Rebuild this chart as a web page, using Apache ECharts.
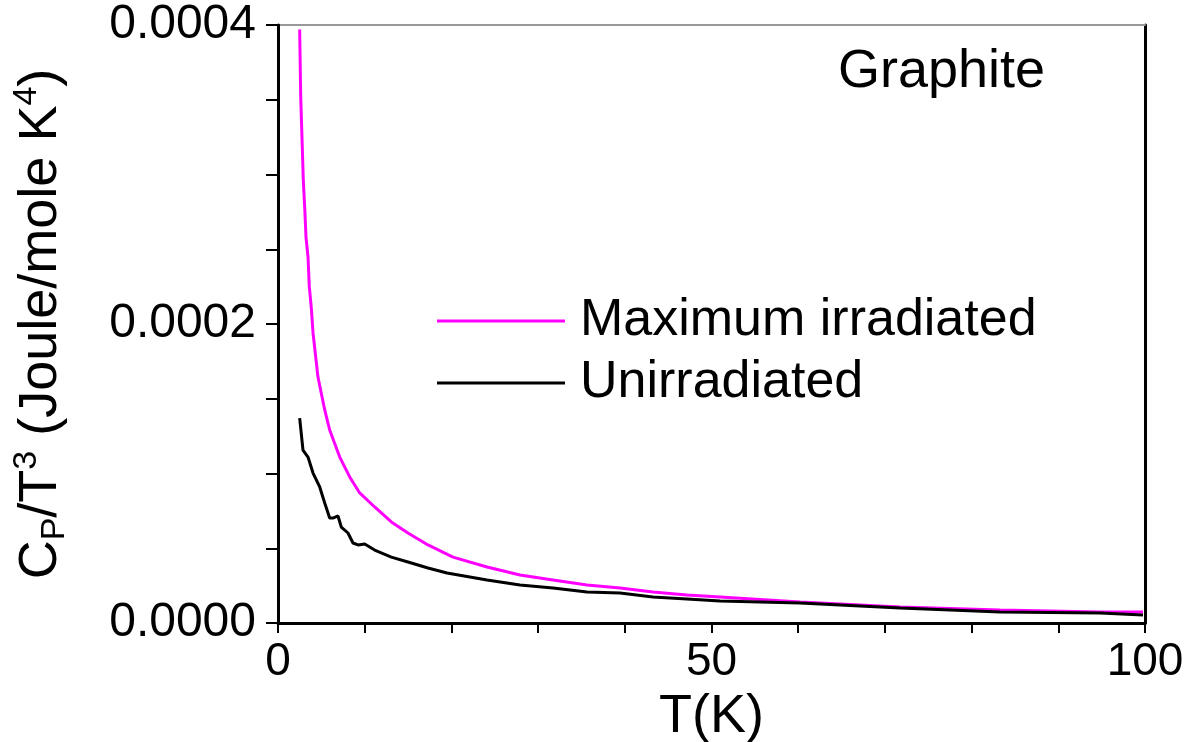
<!DOCTYPE html>
<html>
<head>
<meta charset="utf-8">
<title>Graphite Cp/T^3</title>
<script src="https://cdn.jsdelivr.net/npm/echarts@6/dist/echarts.min.js"></script>
<style>
	html, body { margin: 0; padding: 0; background: #fff; }
	#chart { width: 1192px; height: 742px; }
</style>
</head>
<body>
<div id="chart"></div>
<script>
	'use strict';

	// 最大辐照样品 (magenta)
	var maxIrrT = [2.50, 2.62, 2.77, 2.92, 3.08, 3.23, 3.46, 3.61, 3.84, 4.04, 4.61, 5.39, 5.96, 7.12, 8.27, 9.42, 11.15, 13.07, 14.99, 17.30, 20.18, 24.11, 27.91, 31.72, 35.64, 39.45, 43.25, 47.17, 50.98, 60.21, 71.74, 83.28, 94.81, 99.77];
	var maxIrrCp = [0.000397, 0.000352, 0.000324, 0.000296, 0.000278, 0.000258, 0.000245, 0.000225, 0.000211, 0.000194, 0.0001645, 0.0001425, 0.0001291, 0.000111, 0.0000977, 0.000087, 0.0000776, 0.0000676, 0.0000602, 0.0000522, 0.0000441, 0.0000375, 0.0000321, 0.0000288, 0.0000254, 0.0000234, 0.0000207, 0.0000187, 0.0000174, 0.000014, 0.0000107, 0.0000087, 0.0000074, 0.0000074];

	// 未辐照样品 (black)
	var unirrT = [2.50, 2.88, 3.46, 4.04, 4.81, 5.39, 5.96, 6.34, 6.92, 7.30, 8.07, 8.65, 9.23, 10.00, 11.15, 13.07, 14.99, 17.30, 19.49, 24.11, 27.91, 31.72, 35.64, 39.45, 43.25, 47.17, 50.98, 60.21, 71.74, 83.28, 94.81, 99.77];
	var unirrCp = [0.0001371, 0.0001157, 0.000111, 0.0001003, 0.000091, 0.0000803, 0.0000702, 0.0000702, 0.0000716, 0.0000642, 0.0000602, 0.0000535, 0.0000522, 0.0000528, 0.0000488, 0.0000441, 0.0000408, 0.0000368, 0.0000334, 0.0000288, 0.0000254, 0.0000234, 0.0000207, 0.0000201, 0.0000174, 0.0000161, 0.0000147, 0.0000134, 0.00001, 0.0000074, 0.0000067, 0.0000054];

	var seriesNames = ['Maximum irradiated', 'Unirradiated'];
	var xLabels = [0, 50, 100];
	var yLabels = [0, 0.0002, 0.0004];

	var FONT = '"Liberation Sans", Arial, Helvetica, sans-serif';

	function pairs(xs, ys) {
		var arr = [];
		for (var i = 0; i < xs.length; i++) {
			arr.push([xs[i], ys[i]]);
		}
		return arr;
	}

	var chart = echarts.init(document.getElementById('chart'));

	var option = {
		backgroundColor: '#fff',
		animation: false,
		grid: {
			left: 278,
			right: 47,
			top: 25,
			bottom: 119,
			containLabel: false,
			outerBoundsMode: 'none'
		},
		legend: {
			orient: 'vertical',
			left: 432,
			top: 290,
			icon: 'rect',
			itemWidth: 128,
			itemHeight: 3,
			itemGap: 10,
			textStyle: {
				fontFamily: FONT,
				fontSize: 52,
				color: '#000',
				padding: [0, 0, 0, 10]
			},
			data: seriesNames
		},
		graphic: [{
			type: 'text',
			left: 838,
			top: 45,
			style: {
				text: 'Graphite',
				fontFamily: FONT,
				fontSize: 54,
				fill: '#000'
			}
		}],
		xAxis: [{
			type: 'value',
			min: 0,
			max: 100,
			interval: 10,
			name: 'T(K)',
			nameLocation: 'middle',
			nameGap: 64,
			nameTextStyle: { fontFamily: FONT, fontSize: 54, color: '#000' },
			axisLine: { onZero: false, lineStyle: { color: '#000', width: 3 } },
			axisTick: { length: 10, lineStyle: { color: '#000', width: 2 } },
			axisLabel: {
				margin: 16,
				fontFamily: FONT,
				fontSize: 46,
				color: '#000',
				formatter: function (v) {
					return xLabels.indexOf(v) >= 0 ? String(v) : '';
				}
			},
			splitLine: { show: false },
			z: 5
		}, {
			type: 'value',
			position: 'top',
			min: 0,
			max: 100,
			axisLine: { show: true, onZero: false, lineStyle: { color: '#999', width: 2 } },
			axisTick: { show: false },
			axisLabel: { show: false },
			splitLine: { show: false }
		}],
		yAxis: [{
			type: 'value',
			min: 0,
			max: 0.0004,
			interval: 0.00005,
			name: 'C{sub|P}/T{sup|3} (Joule/mole K{sup|4})',
			nameLocation: 'middle',
			nameGap: 206,
			nameTextStyle: {
				fontFamily: FONT,
				fontSize: 54,
				color: '#000',
				rich: {
					sub: { fontFamily: FONT, fontSize: 34, color: '#000', verticalAlign: 'bottom', padding: [28, 0, 0, 0] },
					sup: { fontFamily: FONT, fontSize: 34, color: '#000', verticalAlign: 'top', padding: [0, 0, 28, 0] }
				}
			},
			axisLine: { onZero: false, lineStyle: { color: '#000', width: 3 } },
			axisTick: { length: 12, lineStyle: { color: '#000', width: 2 } },
			axisLabel: {
				margin: 22,
				fontFamily: FONT,
				fontSize: 48,
				color: '#000',
				formatter: function (v) {
					for (var i = 0; i < yLabels.length; i++) {
						if (Math.abs(v - yLabels[i]) < 1e-9) return yLabels[i].toFixed(4);
					}
					return '';
				}
			},
			splitLine: { show: false },
			z: 5
		}, {
			type: 'value',
			position: 'right',
			min: 0,
			max: 0.0004,
			axisLine: { show: true, onZero: false, lineStyle: { color: '#000', width: 3 } },
			axisTick: { show: false },
			axisLabel: { show: false },
			splitLine: { show: false }
		}],
		series: [{
			name: seriesNames[0],
			type: 'line',
			symbol: 'none',
			color: '#ff00ff',
			lineStyle: { color: '#ff00ff', width: 3 },
			data: pairs(maxIrrT, maxIrrCp),
			z: 3
		}, {
			name: seriesNames[1],
			type: 'line',
			symbol: 'none',
			color: '#000',
			lineStyle: { color: '#000', width: 3 },
			data: pairs(unirrT, unirrCp),
			z: 4
		}]
	};

	chart.setOption(option);
</script>
</body>
</html>
